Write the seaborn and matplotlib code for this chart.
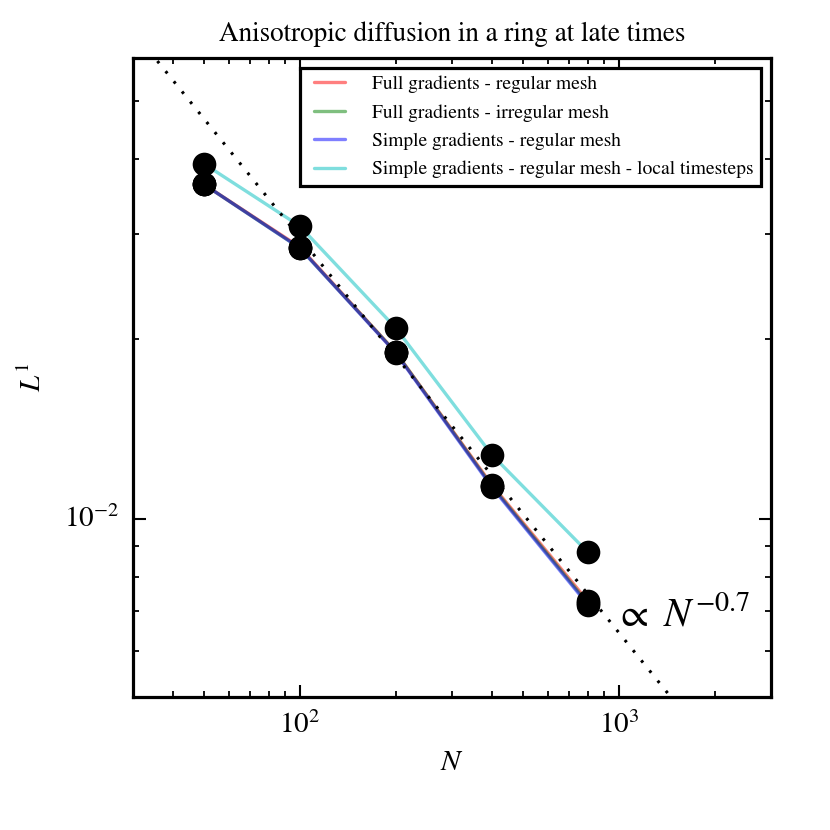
import numpy as np
import pandas as pd
import seaborn as sns
import matplotlib.pyplot as plt
from matplotlib.lines import Line2D

# resolution N and L1 error
N = [50, 100, 200, 400, 800]
full_regular = [0.0363, 0.0285, 0.0190, 0.01140, 0.00728]
full_irregular = [0.0363, 0.0284, 0.0190, 0.01135, 0.00722]
simple_regular = [0.0363, 0.0284, 0.01895, 0.01130, 0.00718]
simple_local = [0.0393, 0.0309, 0.02086, 0.01280, 0.00879]

labels = ['Full gradients - regular mesh',
          'Full gradients - irregular mesh',
          'Simple gradients - regular mesh',
          'Simple gradients - regular mesh - local timesteps']
colors = ['r', 'g', 'b', 'c']

# dotted guide line (endpoints)
ref_N = [30, 3000]
ref_L = [0.0656, 0.00312]

plt.style.use('classic')
sns.set_style('ticks')
plt.rcParams['font.family'] = ['STIXGeneral', 'DejaVu Serif']
plt.rcParams['mathtext.fontset'] = 'stix'
for key in ['text.color', 'axes.labelcolor', 'xtick.color', 'ytick.color']:
    plt.rcParams[key] = 'k'

df = pd.DataFrame({
    'N': N * 4,
    'L': full_regular + full_irregular + simple_regular + simple_local,
    'run': [l for l in labels for _ in N],
})

fig = plt.figure(figsize=(8.3, 8.3), dpi=100, facecolor='white')
ax = fig.add_axes([0.160, 0.160, 0.769, 0.770])

sns.lineplot(data=df, x='N', y='L', hue='run', palette=dict(zip(labels, colors)),
             alpha=0.5, linewidth=2.4, legend=False, ax=ax)
ax.plot(ref_N, ref_L, color='k', linestyle=(0, (2.0, 7.4)), linewidth=2.2)
sns.scatterplot(data=df, x='N', y='L', color='k', s=290, edgecolor='k',
                linewidth=0, zorder=5, legend=False, ax=ax)

ax.set_xscale('log')
ax.set_yscale('log')
ax.set_xlim(30, 3000)
ax.set_ylim(0.00503, 0.059)

ax.text(975, 0.0069, r'$\propto\ N^{-0.7}$', fontsize=29, va='center', ha='left')

ax.set_title('Anisotropic diffusion in a ring at late times', fontsize=19.5, pad=12)
ax.set_xlabel('$N$', fontsize=21, labelpad=9)
ax.set_ylabel('$L^1$', fontsize=21, labelpad=12)

for s in ax.spines.values():
    s.set_linewidth(2.3)
    s.set_color('k')
ax.tick_params(which='both', direction='in', top=True, right=True, labelsize=21, pad=10)
ax.tick_params(which='major', length=9, width=1.5)
ax.tick_params(which='minor', length=4.5, width=1.3)
ax.yaxis.set_minor_formatter(plt.NullFormatter())
ax.xaxis.set_minor_formatter(plt.NullFormatter())

handles = [Line2D([], [], color=c, alpha=0.5, linewidth=2.4) for c in colors]
leg = ax.legend(handles, labels, loc='upper right', fontsize=14, frameon=True,
                fancybox=False, handlelength=2.2, handletextpad=1.1,
                labelspacing=0.55, borderaxespad=0.5)
leg.get_frame().set_edgecolor('k')
leg.get_frame().set_linewidth(2.3)

fig.savefig('out.png', dpi=100, facecolor='white')
